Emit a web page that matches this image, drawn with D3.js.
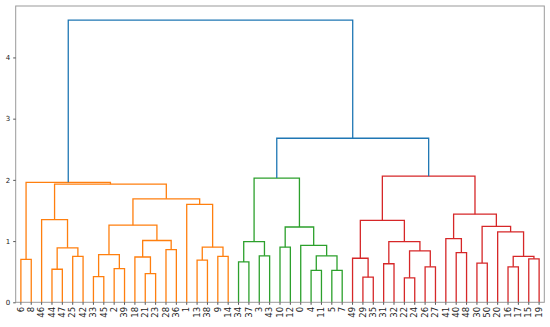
<!DOCTYPE html>
<html>
<head>
<meta charset="utf-8">
<script src="https://cdn.jsdelivr.net/npm/d3@7"></script>
<style>
  html, body { margin: 0; padding: 0; background: #fff; }
  svg { display: block; }
  text { font-family: "DejaVu Sans", sans-serif; fill: #222; }
</style>
</head>
<body>
<svg id="chart" width="550" height="327"></svg>
<script>
// Leaf order as displayed (original observation labels)
const leafOrder = [6, 8, 46, 44, 47, 25, 42, 33, 45, 2, 39, 18, 21, 23, 28, 36, 1, 13, 38, 9, 14,
  34, 37, 3, 43, 10, 12, 0, 4, 11, 5, 7,
  49, 29, 35, 31, 32, 22, 24, 26, 27, 41, 40, 48, 30, 50, 20, 16, 17, 15, 19];

// Linkage rows: [left id, right id]; ids < 51 are leaves, id 51+i is row i
const linkPairs = [
  [22, 24], [29, 35], [33, 45], [21, 23], [4, 11], [5, 7], [44, 47], [2, 39], [26, 27], [16, 17],
  [31, 32], [30, 50], [34, 37], [13, 38], [6, 8], [15, 19], [49, 52], [18, 54], [25, 42], [9, 14],
  [60, 66], [3, 43], [55, 56], [53, 58], [40, 48], [51, 59], [28, 36], [57, 69], [10, 12], [64, 70],
  [0, 73], [63, 72], [61, 76], [68, 77], [41, 75], [20, 71], [79, 81], [62, 86], [74, 84], [67, 83],
  [46, 78], [85, 88], [1, 80], [89, 93], [91, 94], [65, 95], [82, 87], [90, 92], [97, 98], [96, 99]
];
// Merge distances for each linkage row
const linkHeights = [
  0.40, 0.41, 0.42, 0.47, 0.52, 0.52, 0.54, 0.55, 0.58, 0.58,
  0.63, 0.64, 0.66, 0.69, 0.70, 0.71, 0.72, 0.74, 0.75, 0.75,
  0.75, 0.76, 0.76, 0.78, 0.81, 0.84, 0.86, 0.89, 0.90, 0.90,
  0.93, 0.99, 0.99, 1.01, 1.04, 1.15, 1.23, 1.24, 1.26, 1.34,
  1.35, 1.44, 1.60, 1.69, 1.93, 1.96, 2.03, 2.06, 2.68, 4.61
];
const colorThreshold = 2.5;
const yTicks = [0, 1, 2, 3, 4];
const clusterPalette = ["#ff7f0e", "#2ca02c", "#d62728", "#9467bd", "#8c564b"];
const aboveColor = "#1f77b4";

const svg = d3.select("#chart");
const plotLeft = 15.7, plotRight = 544.3, plotTop = 6, plotBottom = 302.3;
const nLeaves = leafOrder.length;
const maxH = d3.max(linkHeights);

const x = d3.scaleBand().domain(leafOrder.map(String)).range([plotLeft, plotRight]).padding(0);
const y = d3.scaleLinear().domain([0, maxH * 1.05]).range([plotBottom, plotTop]);

// node positions
const pos = {};
leafOrder.forEach(l => { pos[l] = { x: x(String(l)) + x.bandwidth() / 2, h: 0 }; });
linkPairs.forEach((p, i) => {
  const a = pos[p[0]], b = pos[p[1]];
  pos[nLeaves + i] = { x: (a.x + b.x) / 2, h: linkHeights[i] };
});

// colors (scipy style)
const color = {};
const rootId = nLeaves + linkPairs.length - 1;
let ci = 0;
function assign(id, c) {
  if (id < nLeaves) return;
  const i = id - nLeaves;
  let cc = c;
  if (c == null) {
    if (linkHeights[i] <= colorThreshold) { cc = clusterPalette[ci++ % clusterPalette.length]; }
  }
  color[id] = cc == null ? aboveColor : cc;
  const [a, b] = linkPairs[i];
  const ordered = pos[a].x <= pos[b].x ? [a, b] : [b, a];
  ordered.forEach(ch => assign(ch, cc));
}
assign(rootId, null);

// draw links
const g = svg.append("g");
linkPairs.forEach((p, i) => {
  const id = nLeaves + i;
  const a = pos[p[0]], b = pos[p[1]];
  const h = linkHeights[i];
  const path = d3.path();
  path.moveTo(a.x, y(a.h));
  path.lineTo(a.x, y(h));
  path.lineTo(b.x, y(h));
  path.lineTo(b.x, y(b.h));
  g.append("path")
    .attr("d", path.toString())
    .attr("fill", "none")
    .attr("stroke", color[id])
    .attr("stroke-width", 1.3);
});

// frame
svg.append("rect")
  .attr("x", plotLeft).attr("y", plotTop)
  .attr("width", plotRight - plotLeft).attr("height", plotBottom - plotTop)
  .attr("fill", "none").attr("stroke", "#9a9a9a").attr("stroke-width", 1);

// y axis
const yAxis = d3.axisLeft(y).tickValues(yTicks).tickFormat(d3.format("d")).tickSize(2.5).tickPadding(3);
const ya = svg.append("g").attr("transform", `translate(${plotLeft},0)`).call(yAxis);
ya.select(".domain").remove();
ya.selectAll(".tick line").attr("stroke", "#555");
ya.selectAll(".tick text").attr("font-size", 7).attr("font-family", "DejaVu Sans").attr("fill", "#222");

// x axis
const xAxis = d3.axisBottom(x).tickSize(2.5).tickPadding(2);
const xa = svg.append("g").attr("transform", `translate(0,${plotBottom})`).call(xAxis);
xa.select(".domain").remove();
xa.selectAll(".tick line").attr("stroke", "#555");
xa.selectAll(".tick text")
  .attr("font-size", 8.5)
  .attr("font-family", "DejaVu Sans")
  .attr("fill", "#222")
  .attr("transform", "rotate(-90)")
  .attr("text-anchor", "end")
  .attr("dy", "0.32em")
  .attr("x", -4.5)
  .attr("y", 0);
</script>
</body>
</html>
